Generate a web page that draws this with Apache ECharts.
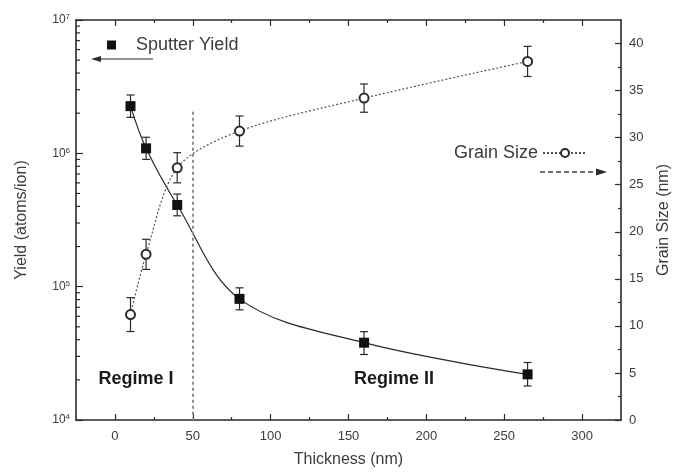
<!DOCTYPE html>
<html>
<head>
<meta charset="utf-8">
<script src="https://cdn.jsdelivr.net/npm/echarts@6/dist/echarts.min.js"></script>
<style>
  html, body { margin: 0; padding: 0; background: #fff; }
  #chart { width: 681px; height: 475px; }
</style>
</head>
<body>
<div id="chart"></div>
<script>
"use strict";

// values
var thickness = [10, 20, 40, 80, 160, 265];
var sputterYield = [2.26e6, 1.09e6, 4.1e5, 8.1e4, 3.8e4, 2.2e4];
var yieldLow = [1.86e6, 0.9e6, 3.4e5, 6.7e4, 3.1e4, 1.8e4];
var yieldHigh = [2.74e6, 1.32e6, 4.95e5, 9.8e4, 4.6e4, 2.7e4];
var grainSize = [11.2, 17.6, 26.8, 30.7, 34.2, 38.1];
var grainErr = [1.8, 1.6, 1.6, 1.6, 1.5, 1.6];

var xMajorTicks = [0, 50, 100, 150, 200, 250, 300];
var xMinorTicks = [25, 75, 125, 175, 225, 275];
var grainMajorTicks = [0, 5, 10, 15, 20, 25, 30, 35, 40];
var grainMinorTicks = [2.5, 7.5, 12.5, 17.5, 22.5, 27.5, 32.5, 37.5];
var regimeBoundary = 50;

var X_MIN = -25, X_MAX = 325;
var INK = '#2a2a2a';
var TEXT = '#3c3c3c';
var FONT = '"Liberation Sans", Arial, sans-serif';

// 2..9 x 10^n minor ticks of the log axis
var logMinorTicks = [];
for (var e = 4; e < 7; e++) {
	for (var m = 2; m <= 9; m++) {
		logMinorTicks.push([0, m * Math.pow(10, e)]);
	}
}

var yieldBars = thickness.map(function(t, i) { return [t, yieldLow[i], yieldHigh[i]]; });
var grainBars = thickness.map(function(t, i) { return [t, grainSize[i] - grainErr[i], grainSize[i] + grainErr[i]]; });

function renderErrorBar(params, api) {
	var lo = api.coord([api.value(0), api.value(1)]);
	var hi = api.coord([api.value(0), api.value(2)]);
	var cap = 4;
	var style = { stroke: INK, lineWidth: 1.2 };
	return {
		type: 'group',
		children: [
			{ type: 'line', shape: { x1: lo[0], y1: lo[1], x2: hi[0], y2: hi[1] }, style: style },
			{ type: 'line', shape: { x1: lo[0] - cap, y1: lo[1], x2: lo[0] + cap, y2: lo[1] }, style: style },
			{ type: 'line', shape: { x1: hi[0] - cap, y1: hi[1], x2: hi[0] + cap, y2: hi[1] }, style: style }
		]
	};
}

function renderLogMinorTick(params, api) {
	var y = api.coord([0, api.value(1)])[1];
	var x = params.coordSys.x;
	return {
		type: 'line',
		shape: { x1: x, y1: y, x2: x + 4, y2: y },
		style: { stroke: INK, lineWidth: 1.2 }
	};
}

function xAxisDef(position, ticks, len, showLine, showLabel) {
	return {
		type: 'value',
		position: position,
		min: X_MIN,
		max: X_MAX,
		name: (position === 'bottom' && showLabel) ? 'Thickness (nm)' : '',
		nameLocation: 'middle',
		nameGap: 32,
		nameTextStyle: { fontSize: 16, color: TEXT, fontFamily: FONT },
		axisLine: { show: showLine, onZero: false, lineStyle: { color: INK, width: 1.6 } },
		axisTick: { show: true, inside: true, length: len, customValues: ticks, lineStyle: { color: INK, width: 1.2 } },
		axisLabel: { show: showLabel, customValues: ticks, fontSize: 13, color: TEXT, fontFamily: FONT, margin: 10 },
		splitLine: { show: false }
	};
}

function grainAxisDef(ticks, len, showLine, showLabel) {
	return {
		type: 'value',
		position: 'right',
		min: 0,
		max: 42.5,
		name: showLabel ? 'Grain Size (nm)' : '',
		nameLocation: 'middle',
		nameRotate: 90,
		nameGap: 35,
		nameTextStyle: { fontSize: 16, color: TEXT, fontFamily: FONT },
		axisLine: { show: showLine, onZero: false, lineStyle: { color: INK, width: 1.6 } },
		axisTick: { show: true, inside: true, length: len, customValues: ticks, lineStyle: { color: INK, width: 1.2 } },
		axisLabel: { show: showLabel, customValues: ticks, fontSize: 13, color: TEXT, fontFamily: FONT, margin: 8 },
		splitLine: { show: false }
	};
}

var chart = echarts.init(document.getElementById('chart'), null, { renderer: 'canvas' });

chart.setOption({
	backgroundColor: '#fff',
	animation: false,
	grid: { left: 76, right: 60, top: 20, bottom: 55 },
	legend: [{
		left: 102,
		top: 31,
		icon: 'rect',
		itemWidth: 9,
		itemHeight: 9,
		data: [{ name: 'Sputter Yield' }],
		textStyle: { fontSize: 18, color: TEXT, fontFamily: FONT, padding: [0, 0, 0, 15] }
	}, {
		right: 88,
		top: 139,
		align: 'right',
		itemWidth: 44,
		itemHeight: 10,
		data: [{ name: 'Grain Size' }],
		textStyle: { fontSize: 18, color: TEXT, fontFamily: FONT }
	}],
	xAxis: [
		xAxisDef('bottom', xMajorTicks, 6, true, true),
		xAxisDef('top', xMajorTicks, 6, true, false),
		xAxisDef('bottom', xMinorTicks, 3, false, false),
		xAxisDef('top', xMinorTicks, 3, false, false)
	],
	yAxis: [{
		type: 'log',
		position: 'left',
		min: 1e4,
		max: 1e7,
		logBase: 10,
		name: 'Yield (atoms/ion)',
		nameLocation: 'middle',
		nameRotate: 90,
		nameGap: 46,
		nameTextStyle: { fontSize: 16, color: TEXT, fontFamily: FONT },
		axisLine: { show: true, onZero: false, lineStyle: { color: INK, width: 1.6 } },
		axisTick: { show: true, inside: true, length: 7, lineStyle: { color: INK, width: 1.2 } },
		axisLabel: {
			color: TEXT,
			fontFamily: FONT,
			margin: 6,
			formatter: function(v) {
				return '{b|10}{sup|' + Math.round(Math.log10(v)) + '}';
			},
			rich: {
				b: { fontSize: 12, color: TEXT, fontFamily: FONT },
				sup: { fontSize: 8, color: TEXT, fontFamily: FONT, verticalAlign: 'top', padding: [0, 0, 6, 0] }
			}
		},
		splitLine: { show: false }
	},
		grainAxisDef(grainMajorTicks, 6, true, true),
		grainAxisDef(grainMinorTicks, 3, false, false)
	],
	series: [{
		name: 'log minor ticks',
		type: 'custom',
		xAxisIndex: 0,
		yAxisIndex: 0,
		silent: true,
		renderItem: renderLogMinorTick,
		data: logMinorTicks,
		z: 1
	}, {
		name: 'Sputter Yield',
		type: 'line',
		xAxisIndex: 0,
		yAxisIndex: 0,
		data: thickness.map(function(t, i) { return [t, sputterYield[i]]; }),
		smooth: 0.35,
		symbol: 'rect',
		symbolSize: 10,
		itemStyle: { color: '#111' },
		lineStyle: { color: INK, width: 1.2 },
		z: 4,
		markLine: {
			silent: true,
			symbol: 'none',
			label: { show: false },
			lineStyle: { color: '#8a8a8a', width: 2, type: [3, 3] },
			data: [[{ coord: [regimeBoundary, 2.05e6] }, { coord: [regimeBoundary, 1e4] }]]
		}
	}, {
		name: 'yield error',
		type: 'custom',
		xAxisIndex: 0,
		yAxisIndex: 0,
		encode: { x: 0, y: [1, 2] },
		renderItem: renderErrorBar,
		data: yieldBars,
		z: 3
	}, {
		name: 'Grain Size',
		type: 'line',
		xAxisIndex: 0,
		yAxisIndex: 1,
		data: thickness.map(function(t, i) { return [t, grainSize[i]]; }),
		smooth: 0.3,
		symbol: 'emptyCircle',
		symbolSize: 9,
		itemStyle: { color: INK, borderWidth: 1.2 },
		lineStyle: { color: '#555', width: 1.2, type: [2, 2] },
		z: 4
	}, {
		name: 'grain error',
		type: 'custom',
		xAxisIndex: 0,
		yAxisIndex: 1,
		encode: { x: 0, y: [1, 2] },
		renderItem: renderErrorBar,
		data: grainBars,
		z: 3
	}],
	graphic: [
		// arrow: sputter yield belongs to the left axis
		{ type: 'line', shape: { x1: 98, y1: 59, x2: 153, y2: 59 }, style: { stroke: INK, lineWidth: 1.2 } },
		{ type: 'polygon', shape: { points: [[91, 59], [101, 56], [101, 62]] }, style: { fill: INK } },
		// arrow: grain size belongs to the right axis
		{ type: 'line', shape: { x1: 540, y1: 172, x2: 598, y2: 172 }, style: { stroke: '#444', lineWidth: 1.4, lineDash: [5, 3] } },
		{ type: 'polygon', shape: { points: [[607, 172], [596, 168.5], [596, 175.5]] }, style: { fill: INK } },
		{ type: 'text', x: 136, y: 379, style: { text: 'Regime I', font: 'bold 18px ' + FONT, fill: '#1a1a1a', align: 'center', verticalAlign: 'middle' } },
		{ type: 'text', x: 394, y: 379, style: { text: 'Regime II', font: 'bold 18px ' + FONT, fill: '#1a1a1a', align: 'center', verticalAlign: 'middle' } }
	]
});
</script>
</body>
</html>
